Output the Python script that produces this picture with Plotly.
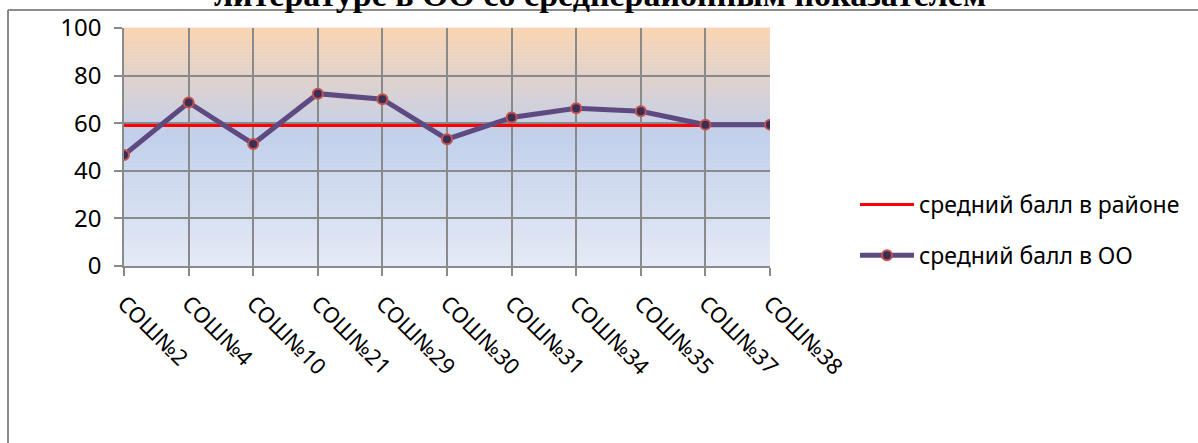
import plotly.graph_objects as go

# ---- data ----
schools = ["СОШ№2", "СОШ№4", "СОШ№10", "СОШ№21", "СОШ№29", "СОШ№30",
           "СОШ№31", "СОШ№34", "СОШ№35", "СОШ№37", "СОШ№38"]
school_avg = [46.6, 68.7, 51.3, 72.4, 70.1, 53.3, 62.4, 66.3, 65.0, 59.4, 59.4]
district_avg = [59, 59, 59, 59, 59, 59, 59, 59, 59, 59, 59]
y_ticks = [0, 20, 40, 60, 80, 100]
name_district = "средний балл в районе"
name_school = "средний балл в ОО"
title_text = "литературе в ОО со среднерайонным показателем"

W, H = 1198, 443
L, R, T, B = 124, 428, 28, 177
pw, ph = W - L - R, H - T - B


def px_x(px):
    return (px - L) / pw


def px_y(py):
    return (H - B - py) / ph


fig = go.Figure()
fig.add_trace(go.Scatter(
    x=schools, y=district_avg, mode="lines", name=name_district,
    line=dict(color="#FF0000", width=3), legendgroup="a"))
fig.add_trace(go.Scatter(
    x=schools, y=school_avg, mode="lines+markers", name=name_school,
    line=dict(color="#5E4A80", width=5), legendgroup="b",
    marker=dict(size=10, color="#3A2E55", line=dict(color="#C8504D", width=2))))

# gradient background strips
stops = [(0.0, (228, 234, 246)), (0.55, (194, 208, 235)), (1.0, (250, 212, 178))]


def col(t):
    for (t0, c0), (t1, c1) in zip(stops[:-1], stops[1:]):
        if t0 <= t <= t1:
            f = (t - t0) / (t1 - t0)
            return "rgb(%d,%d,%d)" % tuple(round(a + (b - a) * f) for a, b in zip(c0, c1))
    return "rgb(%d,%d,%d)" % stops[-1][1]


shapes = []
N = 80
for i in range(N):
    y0, y1 = i / N, (i + 1) / N
    shapes.append(dict(type="rect", xref="paper", yref="paper", x0=0, x1=1,
                       y0=y0, y1=y1 + 0.002, fillcolor=col((y0 + y1) / 2),
                       line=dict(width=0), layer="below"))
# chart-area border (left and top edges)
bx, by = px_x(8), px_y(10)
shapes.append(dict(type="line", xref="paper", yref="paper", x0=bx, x1=bx,
                   y0=px_y(H + 5), y1=by, line=dict(color="#8C8C8C", width=2)))
shapes.append(dict(type="line", xref="paper", yref="paper", x0=bx, x1=px_x(W + 5),
                   y0=by, y1=by, line=dict(color="#8C8C8C", width=2)))

fig.update_layout(
    width=W, height=H,
    margin=dict(l=L, r=R, t=T, b=B, autoexpand=False),
    paper_bgcolor="white", plot_bgcolor="rgba(0,0,0,0)",
    font=dict(family="Noto Sans", size=20, color="black"),
    shapes=shapes,
    showlegend=True,
    legend=dict(x=px_x(855), y=px_y(230), xanchor="left", yanchor="middle",
                traceorder="grouped", tracegroupgap=18, itemwidth=54,
                font=dict(size=23), bgcolor="rgba(0,0,0,0)"),
    annotations=[dict(text="<b>" + title_text + "</b>", xref="paper", yref="paper",
                      x=px_x(600), y=px_y(15), xanchor="center", yanchor="bottom",
                      showarrow=False,
                      font=dict(family="Liberation Serif", size=34, color="black"))],
)
fig.update_xaxes(type="category", range=[0, len(schools) - 1], showgrid=True,
                 gridcolor="#8A8A8A", gridwidth=1.5, ticks="outside", ticklen=8,
                 tickcolor="#8A8A8A", tickwidth=1.5, tickangle=45,
                 showline=True, linecolor="#8A8A8A", linewidth=1.5,
                 ticklabelstandoff=6, tickfont=dict(size=22))
fig.update_yaxes(range=[0, 100], tickvals=y_ticks, showgrid=True,
                 gridcolor="#8A8A8A", gridwidth=1.5, ticks="outside", ticklen=8,
                 tickcolor="#8A8A8A", tickwidth=1.5, showline=True,
                 linecolor="#8A8A8A", linewidth=1.5, zeroline=False,
                 ticklabelstandoff=8, tickfont=dict(size=24))

fig.write_html("out.html", config={"displayModeBar": False},
               post_script="document.body.style.margin='0';")
